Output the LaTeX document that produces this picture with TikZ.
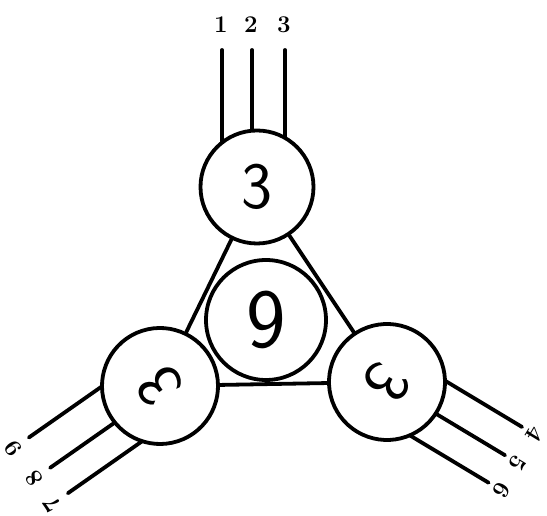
\documentclass[tikz,border=0pt]{standalone}
\usepackage{fontspec}
\begin{document}
\begin{tikzpicture}[x=1pt,y=1pt,
  wire/.style={line width=3.8pt, line cap=round},
  ring/.style={circle, draw, line width=3.8pt, inner sep=0pt, fill=white},
  lab/.style={font=\bfseries\fontsize{24}{24}\selectfont, inner sep=0pt, transform shape},
  digit/.style={font=\sffamily\fontsize{66}{66}\selectfont}]
\useasboundingbox (0,0) rectangle (547,516);

% top cluster
\begin{scope}[shift={(257,329)}]
  \foreach \o/\n/\l in {-35/1/1, -5/2/2, 28/3/3}{
    \coordinate (ta\n) at (\o,{sqrt(56^2-(\o)^2)});
    \coordinate (tb\n) at (\o,137);
    \draw[wire] (ta\n) -- (tb\n);
    \node[lab] (tl\n) at ({\o-1},162) {\l};
  }
\end{scope}

% left cluster
\begin{scope}[shift={(160,130)}, rotate=125]
  \foreach \o/\n/\l in {-35/1/7, -4/2/8, 33/3/9}{
    \coordinate (la\n) at (\o,{sqrt(57^2-(\o)^2)});
    \coordinate (lb\n) at (\o,137);
    \draw[wire] (la\n) -- (lb\n);
    \node[lab] (ll\n) at (\o,156) {\l};
  }
\end{scope}

% right cluster
\begin{scope}[shift={(387,134)}, rotate=-121]
  \foreach \o/\n/\l in {-31/1/4, 2/2/5, 34/3/6}{
    \coordinate (ra\n) at (\o,{sqrt(57^2-(\o)^2)});
    \coordinate (rb\n) at (\o,139);
    \draw[wire] (ra\n) -- (rb\n);
    \node[lab] (rl\n) at (\o,154) {\l};
  }
\end{scope}

% circles
\node[ring, minimum size=113pt, digit] (T) at (257,329) {3};
\node[ring, minimum size=116pt, digit, rotate=125] (L) at (160,130) {3};
\node[ring, minimum size=116pt, digit, rotate=-121] (R) at (387,134) {3};
\node[ring, minimum size=120pt, font=\sffamily\fontsize{84}{84}\selectfont] (C) at (266,196) {9};

% triangle
\draw[wire] (T) -- (L);
\draw[wire] (T) -- (R);
\draw[wire] (L) -- (R);
\end{tikzpicture}
\end{document}
